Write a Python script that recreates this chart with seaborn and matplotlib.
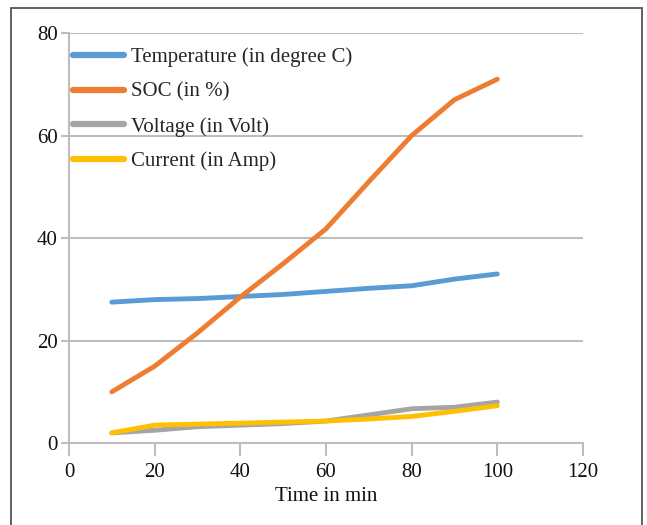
import numpy as np
import pandas as pd
import matplotlib
matplotlib.use("Agg")
import matplotlib.pyplot as plt
import seaborn as sns
from matplotlib.patches import Rectangle

# Measurements logged every 10 minutes
time_min = [10, 20, 30, 40, 50, 60, 70, 80, 90, 100]
temperature = [27.5, 28.0, 28.2, 28.6, 29.0, 29.6, 30.2, 30.7, 32.0, 33.0]
soc = [10.0, 15.0, 21.5, 28.5, 35.0, 41.8, 51.0, 60.0, 67.0, 71.0]
voltage = [2.0, 2.5, 3.2, 3.5, 3.8, 4.3, 5.5, 6.7, 7.0, 8.0]
current = [2.0, 3.5, 3.7, 3.9, 4.1, 4.3, 4.7, 5.2, 6.2, 7.3]

series_names = ["Temperature (in degree C)", "SOC (in %)",
                "Voltage (in Volt)", "Current (in Amp)"]
series_values = [temperature, soc, voltage, current]
colors = ["#5B9BD5", "#ED7D31", "#A5A5A5", "#FFC000"]

x_ticks = [0, 20, 40, 60, 80, 100, 120]
y_ticks = [0, 20, 40, 60, 80]

df = pd.concat(
    [pd.DataFrame({"Time": time_min, "Value": vals, "Series": name})
     for name, vals in zip(series_names, series_values)],
    ignore_index=True,
)

sns.set_theme(style="white")
plt.rcParams["font.family"] = ["Liberation Serif", "DejaVu Serif"]

fig = plt.figure(figsize=(6.47, 5.25), dpi=100)
ax = fig.add_axes([0.1066, 0.156, 0.7945, 0.781])

sns.lineplot(data=df, x="Time", y="Value", hue="Series",
             hue_order=series_names, palette=colors, linewidth=3.5,
             ax=ax, legend=True, sort=False)
for line in ax.get_lines():
    line.set_solid_capstyle("round")
    line.set_solid_joinstyle("round")

ax.set_xlim(0, 120)
ax.set_ylim(0, 80)
ax.set_xticks(x_ticks)
ax.set_yticks(y_ticks)
ax.set_xlabel("Time in min", fontsize=15, color="#111111", labelpad=4)
ax.set_ylabel("")

grid_color = "#BDBDBD"
ax.yaxis.grid(True, color=grid_color, linewidth=1.5)
ax.xaxis.grid(False)
ax.set_axisbelow(True)
for side in ["top", "right"]:
    ax.spines[side].set_visible(False)
for side in ["left", "bottom"]:
    ax.spines[side].set_color(grid_color)
    ax.spines[side].set_linewidth(1.5)

ax.tick_params(axis="x", which="major", direction="out", length=9,
               width=1.5, color=grid_color, labelsize=15,
               labelcolor="#111111", pad=5)
ax.tick_params(axis="y", which="major", direction="out", length=6,
               width=1.5, color=grid_color, labelsize=15,
               labelcolor="#111111", pad=2)
ax.tick_params(bottom=True, left=True)

handles, labels = ax.get_legend_handles_labels()
leg = ax.legend(handles, labels, loc="upper left", frameon=False,
                fontsize=15, handlelength=2.45, handletextpad=0.33,
                labelspacing=0.72, borderaxespad=0.1, borderpad=0.1,
                bbox_to_anchor=(0.0, 0.975))
for h in leg.get_lines():
    h.set_linewidth(4.5)
    h.set_solid_capstyle("round")

# Outer frame around the whole figure
fig.patches.append(Rectangle((11 / 647, -0.01), 631 / 647, 1 - 8 / 525 + 0.01,
                             transform=fig.transFigure, fill=False,
                             edgecolor="#555555", linewidth=1.3))

fig.savefig("out.png", dpi=100)
